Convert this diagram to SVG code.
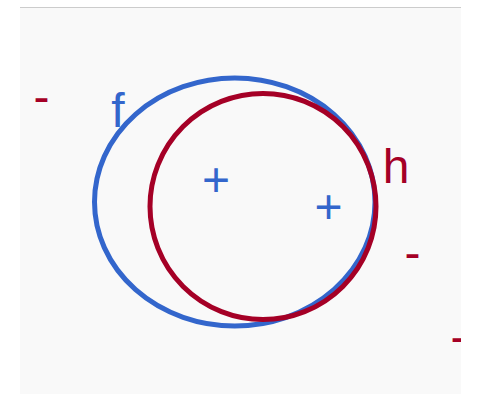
<svg xmlns="http://www.w3.org/2000/svg" width="479" height="394" viewBox="0 0 479 394">
<style>
.t{font-family:"Liberation Sans",Arial,sans-serif;font-size:48px;text-anchor:middle}
.r{fill:#a50026}
.b{fill:#3366cc}
</style>
<defs><clipPath id="clip"><rect x="20" y="7" width="441" height="387"/></clipPath></defs>
<rect x="20" y="7" width="441" height="387" fill="#f9f9f9"/>
<line x1="20" y1="7.5" x2="461" y2="7.5" stroke="#cccccc" stroke-width="1"/>
<g clip-path="url(#clip)">
<g id="f">
<ellipse cx="234.75" cy="202" rx="140.25" ry="124" fill="none" stroke="#3366cc" stroke-width="5"/>
<text class="t b" x="118" y="127">f</text>
</g>
<g id="h">
<circle cx="263" cy="206.5" r="113" fill="none" stroke="#a50026" stroke-width="5"/>
<text class="t r" x="396" y="183">h</text>
</g>
<g id="signs">
<text class="t b" x="216" y="196">+</text>
<text class="t b" x="328.5" y="223">+</text>
<text class="t r" x="41.5" y="113">-</text>
<text class="t r" x="412.5" y="269">-</text>
<text class="t r" x="458.5" y="353">-</text>
</g>
</g>
</svg>
